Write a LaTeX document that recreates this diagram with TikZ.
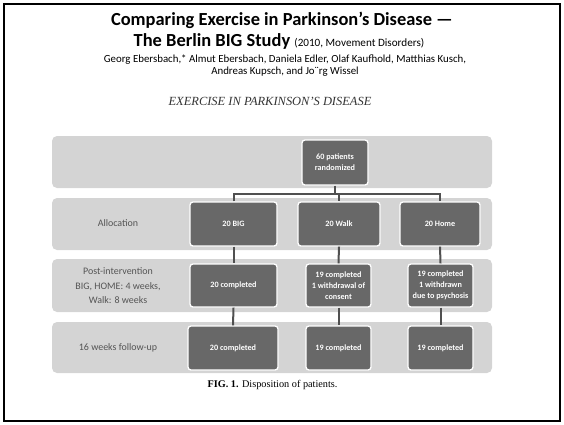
\documentclass[tikz,border=0pt]{standalone}
\usepackage{fontspec}
\setmainfont{Carlito}
\newfontfamily\seriffont{Liberation Serif}
\definecolor{band}{HTML}{D4D4D4}
\definecolor{boxfill}{HTML}{686868}
\definecolor{lanetext}{HTML}{555555}
\definecolor{conn}{HTML}{505050}
\tikzset{
  lane/.style={fill=band, draw=none, rounded corners=5bp},
  lanelabel/.style={text=lanetext, font=\fontsize{10}{14.5}\selectfont, align=center},
  pbox/.style={fill=boxfill, draw=white, line width=1.3bp, rounded corners=3bp, text=white,
     font=\bfseries\fontsize{8.2}{11}\selectfont, align=center, inner sep=1bp},
  link/.style={draw=conn, line width=2bp}
}
\begin{document}
\begin{tikzpicture}[x=1bp,y=-1bp]
\useasboundingbox (0,0) rectangle (564,424);
\draw[line width=2bp] (4,4) rectangle (560,421);
% titles
\node[font=\bfseries\fontsize{18.5}{20}\selectfont] (t1) at (282,20) {Comparing Exercise in Parkinson’s Disease —};
\node (t2) at (279,41) {\fontsize{18.5}{20}\selectfont\bfseries The Berlin BIG Study \fontsize{11.2}{13}\selectfont\mdseries (2010, Movement Disorders)};
\node[font=\fontsize{10.9}{12}\selectfont, align=center] (t3) at (285,66) {Georg Ebersbach,* Almut Ebersbach, Daniela Edler, Olaf Kaufhold, Matthias Kusch,\\Andreas Kupsch, and Jo¨rg Wissel};
\node[font=\seriffont\itshape\fontsize{12.5}{14}\selectfont, text=black!80] (t4) at (270,101) {EXERCISE IN PARKINSON’S DISEASE};
% lanes
\fill[lane] (52,136) rectangle (492,188);
\fill[lane] (52,198) rectangle (492,250);
\fill[lane] (52,259) rectangle (492,312);
\fill[lane] (52,322) rectangle (492,373);
\node[lanelabel] (l2) at (118,223) {Allocation};
\node[lanelabel] (l3) at (118,286) {Post-intervention\\BIG, HOME: 4 weeks,\\Walk: 8 weeks};
\node[lanelabel] (l4) at (118,348) {16 weeks follow-up};
% junction
\coordinate (j) at (335,194);
\coordinate (jw) at (339,194);
% boxes
\node[pbox, minimum width=66bp, minimum height=45bp] (p60) at (335,162.5) {60 patients\\randomized};
\node[pbox, minimum width=87bp, minimum height=44bp] (big) at (233.5,224) {20 BIG};
\node[pbox, minimum width=82bp, minimum height=44bp] (walk) at (339,224) {20 Walk};
\node[pbox, minimum width=80bp, minimum height=44bp] (home) at (440,224) {20 Home};
\node[pbox, minimum width=87bp, minimum height=43bp] (big3) at (233.5,285.5) {20 completed};
\node[pbox, minimum width=65bp, minimum height=43bp] (walk3) at (338.5,285.5) {19 completed\\1 withdrawal of\\consent};
\node[pbox, minimum width=65bp, minimum height=43bp] (home3) at (440.5,285.5) {19 completed\\1 withdrawn\\due to psychosis};
\node[pbox, minimum width=90bp, minimum height=44bp] (big4) at (233,348) {20 completed};
\node[pbox, minimum width=65bp, minimum height=44bp] (walk4) at (338.5,348) {19 completed};
\node[pbox, minimum width=65bp, minimum height=44bp] (home4) at (440.5,348) {19 completed};
\draw[link] (p60.south) -- (j);
\draw[link] (big.north) |- (j) -| (home.north);
\draw[link] (jw) -- (walk.north);
\draw[link] (big.south) -- (big3.north);
\draw[link] (walk.south) -- (walk3.north);
\draw[link] (home.south) -- (home3.north);
\draw[link] (big3.south) -- (big4.north);
\draw[link] (walk3.south) -- (walk4.north);
\draw[link] (home3.south) -- (home4.north);
% caption
\node[font=\seriffont\fontsize{10.3}{12}\selectfont] (cap) at (272.5,385) {\textbf{FIG. 1.} Disposition of patients.};
\end{tikzpicture}
\end{document}
